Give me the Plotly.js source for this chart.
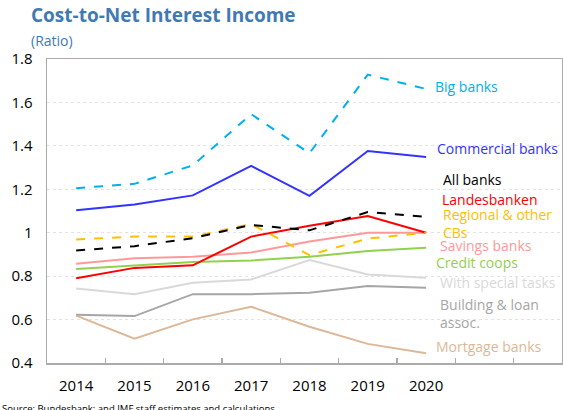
<!DOCTYPE html>
<html>
<head>
<meta charset="utf-8">
<script src="https://cdn.plot.ly/plotly-3.0.1.min.js"></script>
<style>html,body{margin:0;padding:0;background:#fff;}#chart{width:563px;height:410px;}</style>
</head>
<body>
<div id="chart"></div>
<script>
const years = [2014, 2015, 2016, 2017, 2018, 2019, 2020];
const bigBanks = [1.205, 1.225, 1.31, 1.546, 1.366, 1.728, 1.662];
const commercialBanks = [1.104, 1.130, 1.172, 1.308, 1.170, 1.376, 1.349];
const allBanks = [0.918, 0.938, 0.975, 1.036, 1.011, 1.095, 1.073];
const landesbanken = [0.790, 0.838, 0.850, 0.982, 1.032, 1.077, 1.0];
const regionalCBs = [0.969, 0.982, 0.982, 1.040, 0.897, 0.973, 1.0];
const savingsBanks = [0.857, 0.882, 0.889, 0.909, 0.960, 1.0, 1.0];
const creditCoops = [0.833, 0.850, 0.865, 0.872, 0.889, 0.916, 0.931];
const specialTasks = [0.743, 0.717, 0.770, 0.785, 0.874, 0.808, 0.793];
const buildingLoan = [0.622, 0.616, 0.717, 0.717, 0.724, 0.755, 0.747];
const mortgageBanks = [0.618, 0.512, 0.601, 0.659, 0.567, 0.488, 0.445];
const yTicks = [0.4, 0.6, 0.8, 1.0, 1.2, 1.4, 1.6, 1.8];
const yTickText = ['0.4', '0.6', '0.8', '1', '1.2', '1.4', '1.6', '1.8'];

const series = [
  {name: 'Big banks', y: bigBanks, color: '#00B0F0', dash: 'dash', lx: 2020.12, ly: 1.672},
  {name: 'Commercial banks', y: commercialBanks, color: '#3333FF', dash: 'solid', lx: 2020.15, ly: 1.386},
  {name: 'Mortgage banks', y: mortgageBanks, color: '#DDB896', dash: 'solid', lx: 2020.13, ly: 0.478},
  {name: 'Building & loan<br>assoc.', y: buildingLoan, color: '#A6A6A6', dash: 'solid', lx: 2020.2, ly: 0.63},
  {name: 'With special tasks', y: specialTasks, color: '#D9D9D9', dash: 'solid', lx: 2020.2, ly: 0.773},
  {name: 'Credit coops', y: creditCoops, color: '#92D050', dash: 'solid', lx: 2020.14, ly: 0.861},
  {name: 'Savings banks', y: savingsBanks, color: '#FF9999', dash: 'solid', lx: 2020.2, ly: 0.943},
  {name: 'Landesbanken', y: landesbanken, color: '#FF0000', dash: 'solid', lx: 2020.24, ly: 1.151},
  {name: 'Regional & other<br>CBs', y: regionalCBs, color: '#FFC000', dash: 'dash', lx: 2020.25, ly: 1.043},
  {name: 'All banks', y: allBanks, color: '#000000', dash: 'dash', lx: 2020.25, ly: 1.247}
];

const traces = series.map(s => ({
  x: years, y: s.y, type: 'scatter', mode: 'lines', name: s.name,
  line: {color: s.color, width: 2, dash: s.dash}, hoverinfo: 'skip'
}));
// invisible trace to hold the boundary-tick axis
traces.push({x: [2013.5], y: [0.4], xaxis: 'x2', mode: 'markers', marker: {opacity: 0}, hoverinfo: 'skip', showlegend: false});

const annotations = series.map(s => ({
  x: s.lx, y: s.ly, xref: 'x', yref: 'y', text: s.name, showarrow: false,
  xanchor: 'left', yanchor: 'middle', align: 'left',
  font: {family: 'Open Sans, sans-serif', size: 14, color: s.color}
}));
annotations.push({
  x: 0, y: 1.0, xref: 'paper', yref: 'paper', xanchor: 'left', yanchor: 'bottom',
  xshift: -18, yshift: 29, text: '<b>Cost-to-Net Interest Income</b>', showarrow: false,
  font: {family: 'Open Sans, sans-serif', size: 19, color: '#3F7AB5'}
});
annotations.push({
  x: 0, y: 1.0, xref: 'paper', yref: 'paper', xanchor: 'left', yanchor: 'bottom',
  xshift: -18, yshift: 7, text: '(Ratio)', showarrow: false,
  font: {family: 'Open Sans, sans-serif', size: 14, color: '#3F7AB5'}
});
annotations.push({
  x: 0, y: 0, xref: 'paper', yref: 'paper', xanchor: 'left', yanchor: 'top',
  xshift: -47, yshift: -37, text: 'Source: Bundesbank; and IMF staff estimates and calculations', showarrow: false,
  font: {family: 'Open Sans, sans-serif', size: 9.5, color: '#000'}
});

const xr = [2013.5, 2022.33];
const layout = {
  width: 563, height: 410,
  margin: {l: 47, r: 1, t: 59, b: 47},
  paper_bgcolor: '#fff', plot_bgcolor: '#fff',
  showlegend: false,
  xaxis: {
    range: xr, tickmode: 'array', tickvals: years, ticktext: years.map(String),
    ticks: '', showgrid: false, zeroline: false,
    showline: true, mirror: true, linecolor: '#ABABAB', linewidth: 1.5,
    tickfont: {family: 'Open Sans, sans-serif', size: 15, color: '#000'}, ticklabelstandoff: 8
  },
  xaxis2: {
    overlaying: 'x', range: xr, tickmode: 'linear', tick0: 2013.5, dtick: 1,
    ticks: 'inside', ticklen: 5, tickcolor: '#ABABAB', tickwidth: 1.5,
    showticklabels: false, showgrid: false, zeroline: false, side: 'bottom', showline: false
  },
  yaxis: {
    range: [0.4, 1.8], tickmode: 'array', tickvals: yTicks, ticktext: yTickText,
    ticks: '', showgrid: true, gridcolor: '#E3E3E3', gridwidth: 1, griddash: 'dot', zeroline: false,
    showline: true, mirror: true, linecolor: '#ABABAB', linewidth: 1.5,
    tickfont: {family: 'Open Sans, sans-serif', size: 15, color: '#000'}, ticklabelstandoff: 10
  },
  annotations: annotations
};

Plotly.newPlot('chart', traces, layout, {staticPlot: true, displayModeBar: false});
</script>
</body>
</html>
